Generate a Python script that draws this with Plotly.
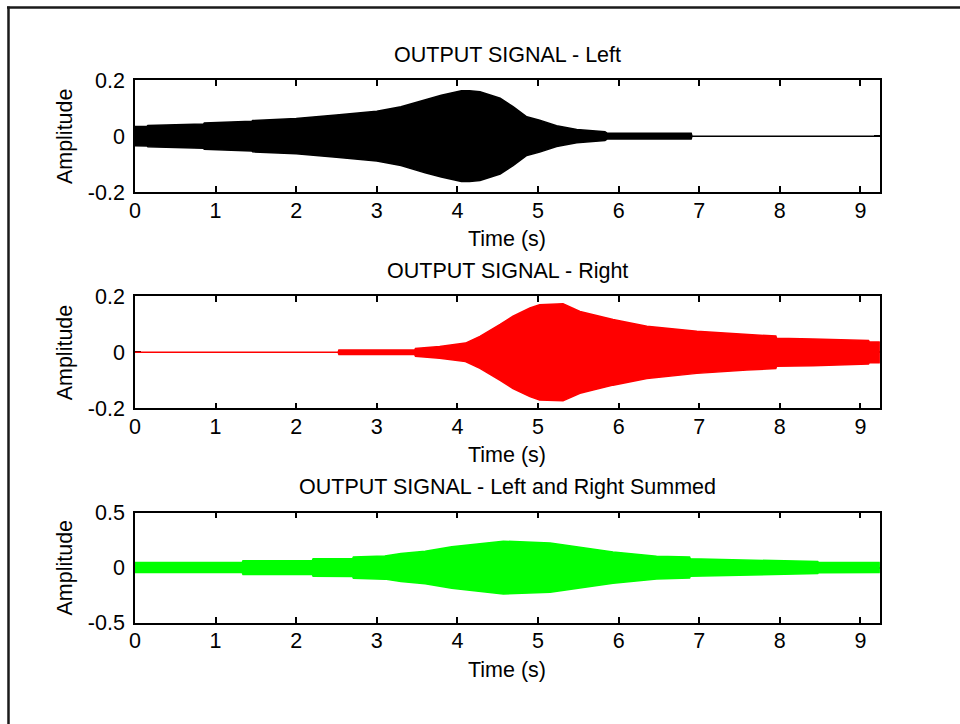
import plotly.graph_objects as go

# ---- data (envelope amplitudes) ----
time_left = [0, 0.15, 0.16, 0.85, 0.86, 1.45, 1.46, 2.0, 2.5, 3.0, 3.3, 3.6, 3.8, 4.05, 4.15,
             4.28, 4.53, 4.69, 4.86, 5.02, 5.23, 5.48, 5.83, 5.86, 6.9, 6.91, 9.24]
amp_left = [0.034, 0.035, 0.038, 0.043, 0.047, 0.053, 0.056, 0.063, 0.075, 0.089, 0.105, 0.131,
            0.146, 0.162, 0.162, 0.158, 0.135, 0.105, 0.069, 0.057, 0.037, 0.024, 0.016, 0.010,
            0.010, 0.0, 0.0]

time_right = [0, 2.52, 2.53, 3.47, 3.48, 3.78, 4.1, 4.28, 4.53, 4.69, 4.9, 5.02, 5.31, 5.52,
              5.93, 6.35, 6.97, 7.59, 7.95, 7.96, 8.41, 9.1, 9.11, 9.24]
amp_right = [0.0, 0.0, 0.008, 0.008, 0.014, 0.021, 0.033, 0.057, 0.100, 0.129, 0.158, 0.170,
             0.173, 0.146, 0.117, 0.093, 0.075, 0.063, 0.058, 0.050, 0.048, 0.042, 0.037, 0.037]

time_sum = [0, 1.33, 1.34, 2.2, 2.21, 2.7, 2.71, 3.1, 3.3, 3.6, 3.93, 4.26, 4.57, 5.15, 5.48,
            5.77, 5.93, 6.47, 6.88, 6.89, 7.48, 7.49, 8.47, 8.48, 9.24]
amp_sum = [0.045, 0.045, 0.063, 0.063, 0.080, 0.082, 0.097, 0.105, 0.127, 0.148, 0.188, 0.212,
           0.240, 0.224, 0.188, 0.158, 0.142, 0.103, 0.095, 0.079, 0.070, 0.066, 0.055, 0.047,
           0.045]

x_ticks = [0, 1, 2, 3, 4, 5, 6, 7, 8, 9]
y_ticks_small = [-0.2, 0, 0.2]
y_text_small = ["-0.2", "0", "0.2"]
y_ticks_sum = [-0.5, 0, 0.5]
y_text_sum = ["-0.5", "0", "0.5"]

titles = ["OUTPUT SIGNAL - Left", "OUTPUT SIGNAL - Right", "OUTPUT SIGNAL - Left and Right Summed"]
x_title = "Time (s)"
y_title = "Amplitude"
colors = ["#000000", "#ff0000", "#00ff00"]

# ---- layout geometry (target pixels in the final picture) ----
SX, SY = 0.994, 0.967          # measured scale of the photographed page
FW, FH = 966, 749              # figure size so the page fills the photo
X0, X1 = 135, 880
rows = [(80, 192), (296, 408), (512, 622)]
FONT = "Liberation Sans, Arial, sans-serif"
FS = 21.5


def px(p):
    return (p / SX) / FW


def py(p):
    return 1 - (p / SY) / FH


fig = go.Figure()

series = [(time_left, amp_left), (time_right, amp_right), (time_sum, amp_sum)]
for i, (t, a) in enumerate(series):
    xs = list(t) + list(t[::-1])
    ys = list(a) + [-v for v in a[::-1]]
    sfx = "" if i == 0 else str(i + 1)
    fig.add_trace(go.Scatter(
        x=xs, y=ys, mode="lines", fill="toself", fillcolor=colors[i],
        line=dict(color=colors[i], width=1.5), hoverinfo="skip", showlegend=False,
        xaxis="x" + sfx, yaxis="y" + sfx))

axis_common = dict(showline=True, linecolor="#000000", linewidth=1.6, mirror="ticks",
                   ticks="inside", ticklen=6, tickwidth=1.6, tickcolor="#000000",
                   showgrid=False, zeroline=False, layer="below traces",
                   tickfont=dict(family=FONT, size=FS, color="#000000"), fixedrange=True)

layout = dict(width=FW, height=FH, margin=dict(l=0, r=0, t=0, b=0),
              paper_bgcolor="white", plot_bgcolor="white", showlegend=False,
              font=dict(family=FONT, size=FS, color="#000000"))

annotations = []
for i, (top, bot) in enumerate(rows):
    sfx = "" if i == 0 else str(i + 1)
    layout["xaxis" + sfx] = dict(axis_common, domain=[px(X0), px(X1)], range=[0, 9.24],
                                 tickvals=x_ticks, anchor="y" + sfx, ticklabelstandoff=-2)
    tv, tt, rg = (y_ticks_small, y_text_small, [-0.2, 0.2]) if i < 2 else (y_ticks_sum, y_text_sum, [-0.5, 0.5])
    layout["yaxis" + sfx] = dict(axis_common, domain=[py(bot), py(top)], range=rg,
                                 tickvals=tv, ticktext=tt, anchor="x" + sfx, ticklabelstandoff=4)
    cx = px((X0 + X1) / 2)
    annotations.append(dict(text=titles[i], x=cx, y=py(top - 25), xref="paper", yref="paper",
                            showarrow=False, xanchor="center", yanchor="middle",
                            font=dict(family=FONT, size=FS)))
    annotations.append(dict(text=x_title, x=cx, y=py(bot + 47), xref="paper", yref="paper",
                            showarrow=False, xanchor="center", yanchor="middle",
                            font=dict(family=FONT, size=FS)))
    annotations.append(dict(text=y_title, x=px(65), y=py((top + bot) / 2), xref="paper",
                            yref="paper", showarrow=False, textangle=-90,
                            xanchor="center", yanchor="middle", font=dict(family=FONT, size=FS)))

layout["annotations"] = annotations
layout["shapes"] = [
    dict(type="line", xref="paper", yref="paper", x0=px(7), x1=1, y0=py(7.5), y1=py(7.5),
         line=dict(color="#1a1a1a", width=2.5)),
    dict(type="line", xref="paper", yref="paper", x0=px(8.5), x1=px(8.5), y0=py(6.5), y1=0,
         line=dict(color="#1a1a1a", width=2.5)),
]

fig.update_layout(layout)
fig.write_html("out.html", config={"displayModeBar": False},
               post_script="document.body.style.margin='-11px 0 0 -6px';"
                           "document.body.style.padding='0';"
                           "document.body.style.overflow='hidden';")
